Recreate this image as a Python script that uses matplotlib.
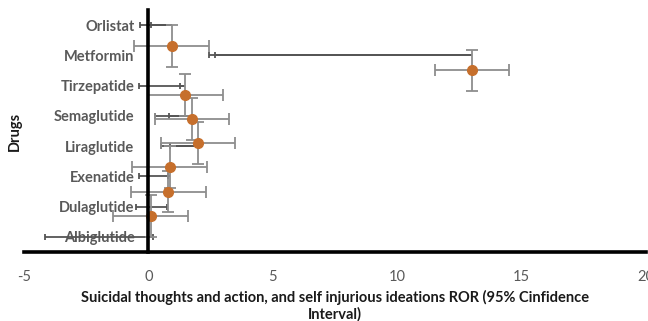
import numpy as np
import matplotlib
matplotlib.use("Agg")
import matplotlib.pyplot as plt

plt.rcParams['font.family'] = ['Lato', 'DejaVu Sans']

# ---- data ----
drugs = ['Orlistat', 'Metformin', 'Tirzepatide', 'Semaglutide',
         'Liraglutide', 'Exenatide', 'Dulaglutide', 'Albiglutide']
ror = [0.93, 13.0, 1.48, 1.76, 2.0, 0.85, 0.80, 0.09]
ci_minus_end = [-0.34, 2.43, -0.38, 0.26, 0.49, -0.38, -0.48, -4.16]
ci_plus_end = [0.10, 2.67, 1.27, 0.83, 0.86, 0.78, 0.73, 0.19]
scatter_y = [8.5, 7.5, 6.5, 5.5, 4.5, 3.5, 2.5, 1.5]
x_ticks = [-5, 0, 5, 10, 15, 20]

# Excel "standard error" error bars
x_se = np.std(ror, ddof=1) / np.sqrt(len(ror))
y_se = np.std(scatter_y, ddof=1) / np.sqrt(len(scatter_y))

n = len(drugs)
ymax = 10.0
cat_y = [ymax - ymax * (i + 0.5) / n for i in range(n)]

fig = plt.figure(figsize=(6.48, 3.21), dpi=100)
ax = fig.add_axes([24 / 648, 69 / 321, 622 / 648, 242 / 321])
ax.set_xlim(-5, 20)
ax.set_ylim(0, ymax)
ax.set_axisbelow(True)

dark = '#555555'
light = '#8e8e8e'
orange = '#C66F2C'

# category (bar) series error bars
for xv, lo, hi, yv in zip(ror, ci_minus_end, ci_plus_end, cat_y):
    ax.hlines([yv, yv], [xv, xv], [lo, hi], color=dark, lw=1.3, zorder=2)
    ax.plot([lo, hi], [yv, yv], ls='none', marker='|', ms=5, mew=1.3,
            color=dark, zorder=2)

# scatter series with standard-error bars
ax.errorbar(ror, scatter_y, xerr=x_se, yerr=y_se, fmt='o', ms=7,
            mfc=orange, mec=orange, ecolor=light, elinewidth=1.3,
            capsize=4.5, capthick=1.3, zorder=3)

for s in ['top', 'right']:
    ax.spines[s].set_visible(False)
ax.spines['left'].set_position(('data', 0))
ax.spines['left'].set_linewidth(2.6)
ax.spines['bottom'].set_linewidth(2.6)
ax.spines['left'].set_zorder(4)
ax.spines['bottom'].set_zorder(4)

ax.set_xticks(x_ticks)
ax.set_xticklabels([str(t) for t in x_ticks])
ax.tick_params(axis='x', length=0, pad=13, labelsize=10.5, labelcolor='#595959')
ax.set_yticks(cat_y)
ax.set_yticklabels(drugs, fontweight='bold')
ax.tick_params(axis='y', length=0, pad=10, labelsize=10.5, labelcolor='#595959')

ax.set_xlabel('Suicidal thoughts and action, and self injurious ideations ROR (95% Cinfidence\nInterval)',
              fontsize=10.5, fontweight='bold', color='#1a1a1a',
              linespacing=1.15, va='top')
ax.xaxis.set_label_coords(0.5, -0.158)
ax.set_ylabel('Drugs', fontsize=10.5, fontweight='bold', color='#1a1a1a')
ax.yaxis.set_label_coords(-0.004, 0.5)

fig.savefig('out.png', dpi=100)
